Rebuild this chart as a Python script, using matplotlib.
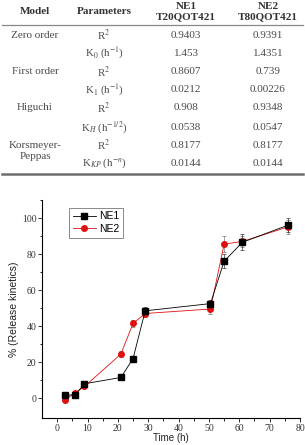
import matplotlib
matplotlib.use("Agg")
import matplotlib.pyplot as plt

# ---- table data ----
models = ["Zero order", "", "First order", "", "Higuchi", "", "Korsmeyer-\nPeppas", ""]
params = ["R$^2$", "K$_0$ (h$^{-1}$)", "R$^2$", "K$_1$ (h$^{-1}$)",
          "R$^2$", "K$_H$ (h$^{-1/2}$)", "R$^2$", "K$_{KP}$ (h$^{-n}$)"]
ne1_vals = ["0.9403", "1.453", "0.8607", "0.0212", "0.908", "0.0538", "0.8177", "0.0144"]
ne2_vals = ["0.9391", "1.4351", "0.739", "0.00226", "0.9348", "0.0547", "0.8177", "0.0144"]
headers = ["Model", "Parameters", "NE1\nT20QOT421", "NE2\nT80QOT421"]

# ---- release data ----
time_h = [2.5, 6, 9, 21, 25, 29, 50.5, 55, 61, 76]
ne1 = [1.5, 2, 8, 11.5, 22, 48.5, 52.5, 76, 86.5, 96]
ne1_err = [1.5, 1.5, 1.5, 1, 1.5, 2, 2, 4, 4.5, 4]
ne2 = [-1, 3, 6.5, 24.5, 41.5, 47, 49.5, 85.5, 87, 95]
ne2_err = [1, 1, 1, 1.5, 2, 2, 2.5, 4.5, 3, 4]

plt.rcParams["mathtext.fontset"] = "stix"
W, H = 305, 445
fig = plt.figure(figsize=(W / 100, H / 100), dpi=100)

# ---- table (pixel coordinates) ----
tab = fig.add_axes([0, 1 - 178 / H, 1, 178 / H])
tab.set_xlim(0, W); tab.set_ylim(178, 0); tab.axis("off")
SERIF = "Liberation Serif"
TXT = "#4a4a4a"
col_x = [35, 104, 186, 268]
for x, h in zip(col_x, headers):
    tab.text(x, 12, h, ha="center", va="center", family=SERIF, fontsize=8,
             fontweight="bold", color="#333333", linespacing=1.2)
tab.plot([2, W - 2], [25, 25], color="#888888", lw=0.9)
row_y = [35, 53, 72, 90, 108, 127, 145, 163]
for y, m, p, a, b in zip(row_y, models, params, ne1_vals, ne2_vals):
    if m:
        tab.text(col_x[0], y + (6 if "\n" in m else 0), m, ha="center", va="center",
                 family=SERIF, fontsize=8, color=TXT, linespacing=1.25)
    tab.text(col_x[1], y, p, ha="center", va="center", family=SERIF, fontsize=7.8, color=TXT)
    tab.text(col_x[2], y, a, ha="center", va="center", family=SERIF, fontsize=8, color=TXT)
    tab.text(col_x[3], y, b, ha="center", va="center", family=SERIF, fontsize=8, color=TXT)
tab.plot([2, W - 2], [173.5, 173.5], color="#6e6e6e", lw=1.8)

# ---- release chart ----
RED = "#e01010"
ax = fig.add_axes([42 / W, 27 / H, (300 - 42) / W, (418 - 200) / H])
ax.errorbar(time_h, ne1, yerr=ne1_err, fmt="none", ecolor="#333333", elinewidth=0.5,
            capsize=1.5, capthick=0.5, zorder=2)
ax.errorbar(time_h, ne2, yerr=ne2_err, fmt="none", ecolor="#777777", elinewidth=0.5,
            capsize=1.5, capthick=0.5, zorder=1)
ax.plot(time_h, ne1, color="black", lw=0.6, marker="s", ms=4.5, label="NE1", zorder=4)
ax.plot(time_h, ne2, color=RED, lw=0.6, marker="o", ms=4, label="NE2", zorder=3)
ax.set_xlim(-5, 80)
ax.set_ylim(-11, 110)
ax.set_xticks(range(0, 81, 10))
ax.set_xticks(range(5, 80, 10), minor=True)
ax.set_yticks(range(0, 101, 20))
ax.set_yticks(range(10, 111, 20), minor=True)
for sp in ["top", "right"]:
    ax.spines[sp].set_visible(False)
for sp in ["left", "bottom"]:
    ax.spines[sp].set_linewidth(0.8)
ax.tick_params(which="major", direction="out", length=3, width=0.7, labelsize=7,
               pad=1, colors="#333333")
ax.tick_params(which="minor", direction="out", length=1.8, width=0.6)
for lab in ax.get_xticklabels() + ax.get_yticklabels():
    lab.set_family(SERIF)
ax.set_xlabel("Time (h)", family="Liberation Sans", fontsize=7, labelpad=0, color="#222222")
ax.set_ylabel("% (Release kinetics)", family="Liberation Sans", fontsize=7.5, labelpad=2,
              color="#222222")
leg = ax.legend(loc="upper left", bbox_to_anchor=(0.105, 0.965),
                prop={"family": "Liberation Sans", "size": 7.5}, frameon=True,
                fancybox=False, edgecolor="#555555", handlelength=2.2, handletextpad=0.3,
                borderpad=0.35, labelspacing=0.25, borderaxespad=0)
leg.get_frame().set_linewidth(0.6)

fig.savefig("out.png", dpi=100, facecolor="white")
